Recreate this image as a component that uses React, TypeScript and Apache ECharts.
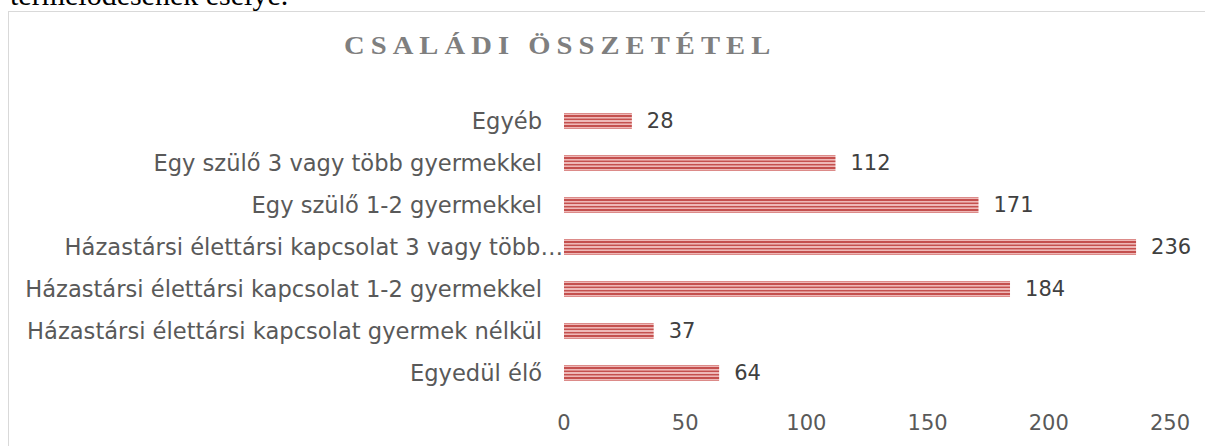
import React, { useEffect, useRef } from "react";
import * as echarts from "echarts";

const categories = [
  "Egyedül élő",
  "Házastársi élettársi kapcsolat gyermek nélkül",
  "Házastársi élettársi kapcsolat 1-2 gyermekkel",
  "Házastársi élettársi kapcsolat 3 vagy több gyermekkel",
  "Egy szülő 1-2 gyermekkel",
  "Egy szülő 3 vagy több gyermekkel",
  "Egyéb",
];
const values = [64, 37, 184, 236, 171, 112, 28];
const shownLabels: Record<string, string> = {
  "Házastársi élettársi kapcsolat 3 vagy több gyermekkel": "Házastársi élettársi kapcsolat 3 vagy több…",
};
const titleText = "CSALÁDI ÖSSZETÉTEL";
const pageText = "termelődésének esélye.";

const FONT = "'DejaVu Sans', sans-serif";
const FS = 22.6;
const FSN = 21;

function stripeGradient() {
  const l = "#eeb8b7";
  const m = "#dc8b89";
  const d = "#c4504e";
  const rows = [m, l, d, d, l, m, d, l, l, d, m, l, d, d, l, m];
  const h = rows.length;
  const stops: { offset: number; color: string }[] = [];
  for (let i = 0; i < h; i++) {
    stops.push({ offset: i / h, color: rows[i] });
    stops.push({ offset: (i + 1) / h - 0.0001, color: rows[i] });
  }
  return new echarts.graphic.LinearGradient(0, 0, 0, 1, stops);
}

export default function App() {
  const ref = useRef<HTMLDivElement>(null);
  useEffect(() => {
    if (!ref.current) return;
    const chart = echarts.init(ref.current, null, { renderer: "svg" });
    chart.setOption({
      animation: false,
      grid: { left: 564, right: 35, top: 100, bottom: 52 },
      xAxis: {
        type: "value",
        min: 0,
        max: 250,
        interval: 50,
        axisLine: { show: false },
        axisTick: { show: false },
        splitLine: { show: false },
        axisLabel: { color: "#595959", fontFamily: FONT, fontSize: FSN, margin: 18 },
      },
      yAxis: {
        type: "category",
        data: categories,
        axisLine: { show: false },
        axisTick: { show: false },
        axisLabel: {
          margin: 0,
          formatter: (v: string) => (shownLabels[v] ? `{t|${shownLabels[v]}}` : `{n|${v}}`),
          rich: {
            n: { color: "#595959", fontFamily: FONT, fontSize: FS, padding: [0, 22, 0, 0] },
            t: { color: "#595959", fontFamily: FONT, fontSize: FS, padding: [0, 1, 0, 0] },
          },
        },
      },
      series: [
        {
          type: "bar",
          data: values,
          barWidth: 16,
          itemStyle: { color: stripeGradient() },
          label: {
            show: true,
            position: "right",
            distance: 15,
            color: "#404040",
            fontFamily: FONT,
            fontSize: FSN,
          },
        },
      ],
    });
    return () => chart.dispose();
  }, []);
  return (
    <div style={{ position: "fixed", left: 0, top: 0, width: 1205, height: 446, overflow: "hidden", background: "#fff" }}>
      <div
        style={{
          position: "absolute",
          left: 10,
          top: -20,
          fontFamily: "'Liberation Serif', serif",
          fontSize: 30,
          lineHeight: "30px",
          color: "#000",
          whiteSpace: "nowrap",
        }}
      >
        {pageText}
      </div>
      <div
        style={{
          position: "absolute",
          left: 8,
          top: 11,
          width: 1220,
          height: 460,
          border: "1.5px solid #d9d9d9",
          boxSizing: "border-box",
        }}
      />
      <div ref={ref} style={{ position: "absolute", left: 0, top: 0, width: 1205, height: 446 }} />
      <div
        style={{
          position: "absolute",
          left: 344,
          top: 33,
          fontFamily: "'Liberation Serif', serif",
          fontWeight: "bold",
          fontSize: 26,
          lineHeight: "26px",
          letterSpacing: 5.5,
          color: "#7f7f7f",
          whiteSpace: "nowrap",
          transform: "scaleX(1.1)",
          transformOrigin: "left top",
        }}
      >
        {titleText}
      </div>
    </div>
  );
}
